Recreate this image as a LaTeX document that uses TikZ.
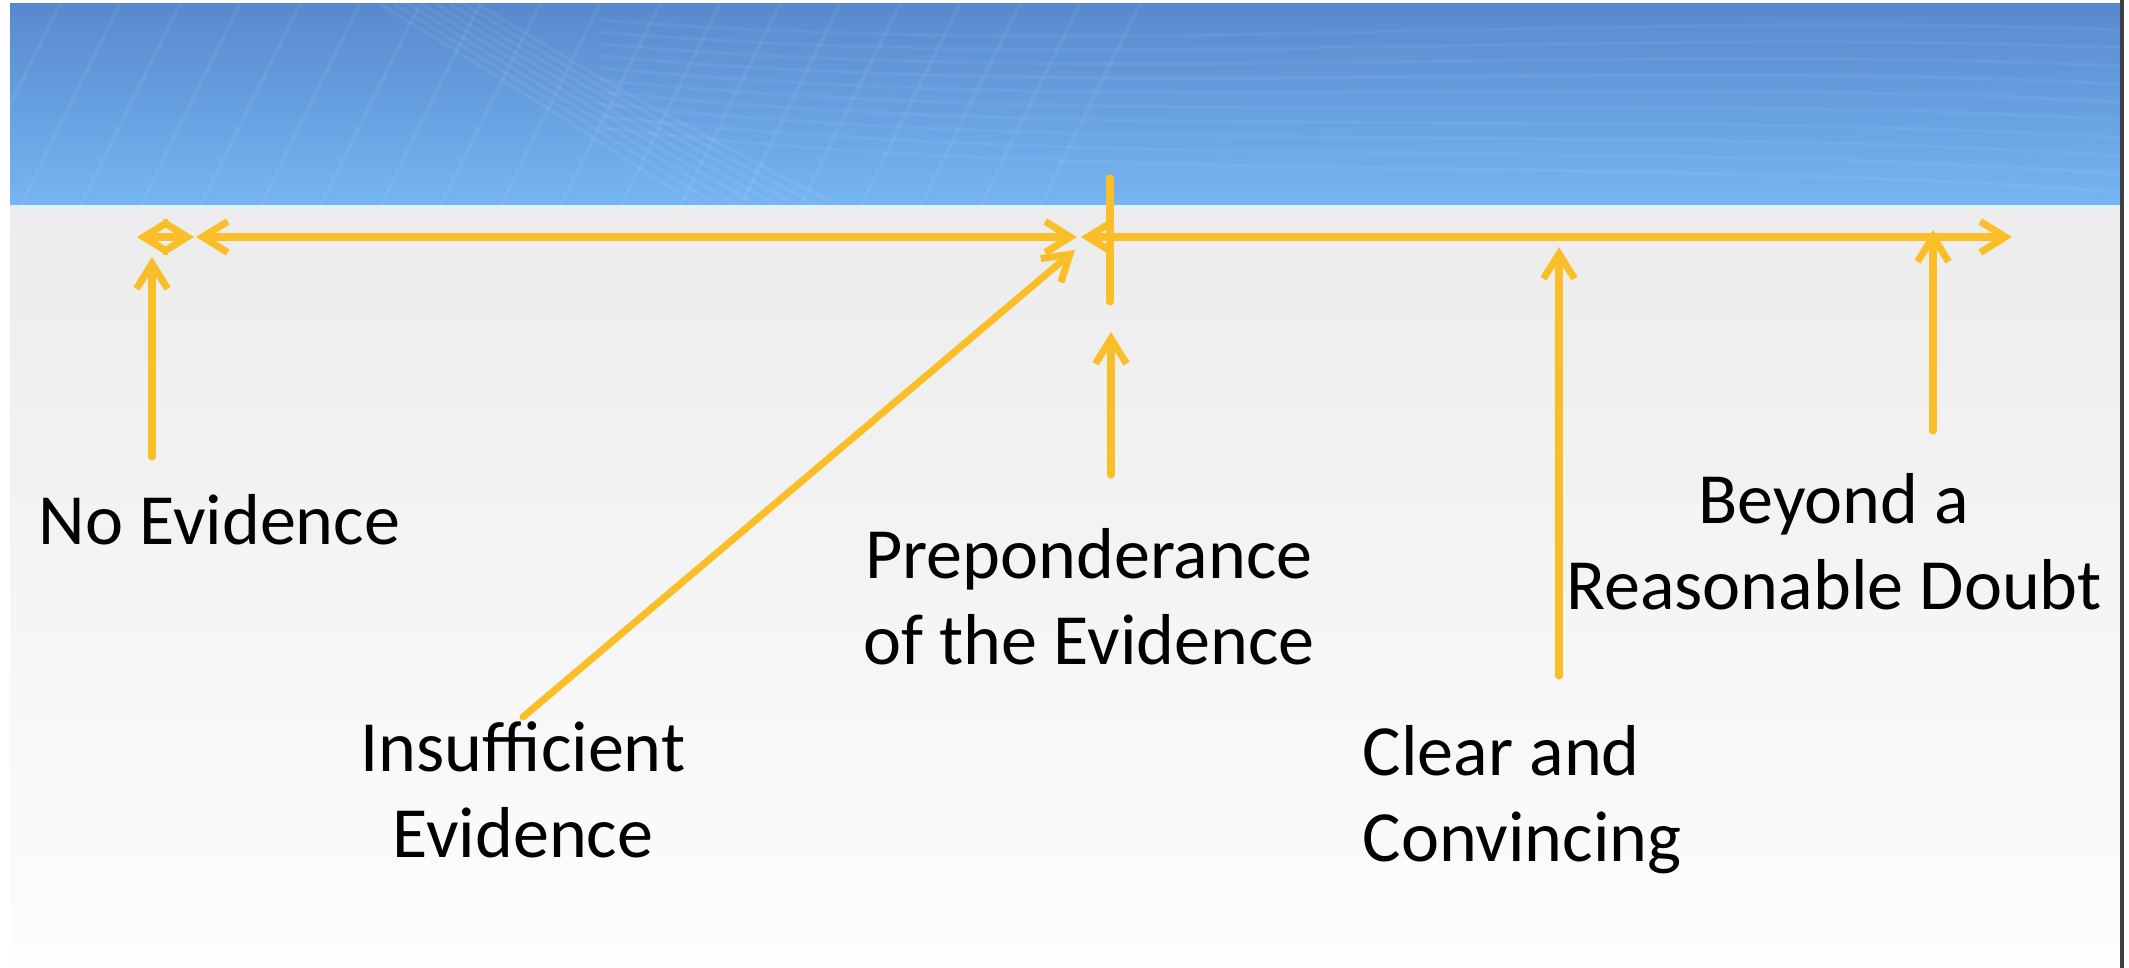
\documentclass[tikz,border=0pt]{standalone}
\usepackage{fontspec}
\setmainfont{Carlito}
\usetikzlibrary{arrows.meta}

\definecolor{gold}{RGB}{250,190,40}
\definecolor{skytop}{RGB}{88,137,206}
\definecolor{skybot}{RGB}{117,182,242}
\definecolor{paper}{RGB}{236,236,236}
\definecolor{paperlow}{RGB}{253,253,253}

\tikzset{
  goldline/.style={draw=gold, line width=2pt, line cap=round},
  barb/.tip={Straight Barb[length=2.5mm, width=3.1mm]},
  uparrow/.style={goldline, -barb},
  twoway/.style={goldline, barb-barb},
  lbl/.style={font=\fontsize{20.5}{24.5}\selectfont, inner sep=0pt, align=center},
}

\begin{document}
\begin{tikzpicture}[x=0.01cm, y=-0.01cm]
        \useasboundingbox (0,0) rectangle (2129,968);
        \fill[white] (0,0) rectangle (2129,968);
        \shade[top color=paper, bottom color=paperlow] (10,207) rectangle (2120,968);
        \shade[top color=skytop, bottom color=skybot] (10,4) rectangle (2120,207);
        \begin{scope}
            \clip (10,4) rectangle (2120,207);
            \foreach \i in {0,...,18}
                \draw[white, opacity=0.06, line width=1pt] (\i*60-40,207) -- (\i*60+60,4);
            \foreach \j in {0,...,7}
                \draw[white, opacity=0.06, line width=1pt] (380+\j*14,4) .. controls (520+\j*14,90) .. (700+\j*20,207);
            \foreach \j in {0,...,9}
                \draw[white, opacity=0.05, line width=1pt] (600,20+\j*12) .. controls (1100,60+\j*14) and (1600,10+\j*16) .. (2120,30+\j*18);
        \end{scope}
        \draw[white!80!skybot, line width=1pt] (10,207) -- (2120,207);
        \draw[black!75, line width=1.2pt] (2122,0) -- (2122,968);

        % labels (base = last line)
        \node[lbl, anchor=base west] (noev) at (38,545) {No Evidence};
        \node[lbl, anchor=base] (insuff) at (523,858) {Insufficient\\Evidence};
        \node[lbl, anchor=base] (prepon) at (1089,665) {Preponderance\\of the Evidence};
        \node[lbl, anchor=base west, align=left] (clear) at (1362,862) {Clear and\\Convincing};
        \node[lbl, anchor=base] (beyond) at (1834,610) {Beyond a\\Reasonable Doubt};

        % scale line
        \coordinate (d0) at (137,237);
        \coordinate (d1) at (194,237);
        \coordinate (s0) at (196,237);
        \coordinate (s1) at (1077,237);
        \coordinate (s2) at (1081,237);
        \coordinate (s3) at (2012,237);
        \coordinate (t0) at (1110,178);
        \coordinate (t1) at (1110,302);
        \draw[twoway] (d0) -- (d1);
        \draw[twoway] (s0) -- (s1);
        \draw[twoway] (s2) -- (s3);
        \draw[goldline] (t0) -- (t1);

        % pointers
        \coordinate (n0) at (152,457);
        \coordinate (n1) at (152,257);
        \coordinate (i0) at (523,717);
        \coordinate (i1) at (1075,250);
        \coordinate (p0) at (1111,475);
        \coordinate (p1) at (1111,332);
        \coordinate (c0) at (1559,676);
        \coordinate (c1) at (1559,247);
        \coordinate (b0) at (1933,431);
        \coordinate (b1) at (1933,230);
        \draw[uparrow] (n0) -- (n1);
        \draw[uparrow] (i0) -- (i1);
        \draw[uparrow] (p0) -- (p1);
        \draw[uparrow] (c0) -- (c1);
        \draw[uparrow] (b0) -- (b1);
    \end{tikzpicture}
\end{document}
